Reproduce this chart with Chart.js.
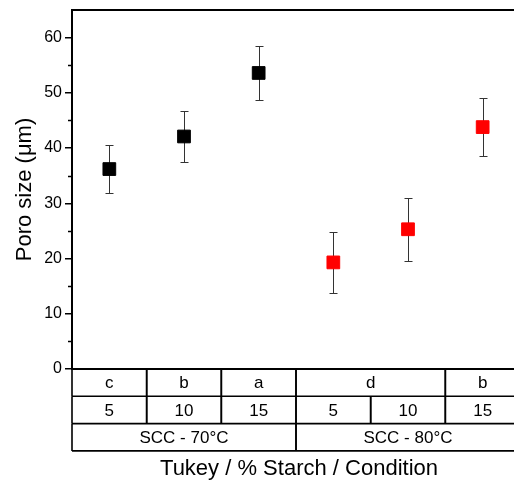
<!DOCTYPE html>
<html>
<head>
<meta charset="utf-8">
<script src="https://cdn.jsdelivr.net/npm/chart.js@4.4.0/dist/chart.umd.min.js"></script>
<style>
  html, body { margin: 0; padding: 0; background: #fff; overflow: hidden; }
  #wrap { width: 530px; height: 482px; }
</style>
</head>
<body>
<div id="wrap"><canvas id="chart"></canvas></div>
<script>
const starch = ['5', '10', '15', '5', '10', '15'];
const tukey = ['c', 'b', 'a', 'd', 'd', 'b'];
const condition = ['SCC - 70°C', 'SCC - 70°C', 'SCC - 70°C', 'SCC - 80°C', 'SCC - 80°C', 'SCC - 80°C'];
const poreSize = [36.2, 42.1, 53.6, 19.3, 25.3, 43.8];
const poreSd = [4.4, 4.7, 4.95, 5.5, 5.7, 5.3];
const yTicks = [0, 10, 20, 30, 40, 50, 60];
const yMinorTicks = [5, 15, 25, 35, 45, 55];
const seriesColors = { 'SCC - 70°C': '#000000', 'SCC - 80°C': '#ff0000' };

const FONT = "'Liberation Sans', Arial, sans-serif";

// group adjacent equal labels into merged cells
function mergeCells(labels) {
  const cells = [];
  labels.forEach((l, i) => {
    const last = cells[cells.length - 1];
    if (last && last.label === l) last.end = i + 1;
    else cells.push({ label: l, start: i, end: i + 1 });
  });
  return cells;
}

const datasets = [...new Set(condition)].map(c => ({
  label: c,
  data: poreSize.map((v, i) => ({ x: i + 0.5, y: v, sd: poreSd[i] }))
    .filter((p, i) => condition[i] === c),
  backgroundColor: seriesColors[c],
  borderColor: seriesColors[c],
  borderWidth: 1,
  pointStyle: 'rect',
  pointRadius: 9,
  pointHoverRadius: 9,
  showLine: false
}));

const tablePlugin = {
  id: 'tablePlugin',
  beforeDatasetsDraw(chart) {
    const { ctx, scales: { x, y } } = chart;
    ctx.save();
    ctx.strokeStyle = '#333';
    ctx.lineWidth = 1;
    chart.data.datasets.forEach(ds => ds.data.forEach(p => {
      const px = Math.round(x.getPixelForValue(p.x)) + 0.5;
      const top = Math.round(y.getPixelForValue(p.y + p.sd)) + 0.5;
      const bot = Math.round(y.getPixelForValue(p.y - p.sd)) + 0.5;
      ctx.beginPath();
      ctx.moveTo(px, top); ctx.lineTo(px, bot);
      ctx.moveTo(px - 4, top); ctx.lineTo(px + 4, top);
      ctx.moveTo(px - 4, bot); ctx.lineTo(px + 4, bot);
      ctx.stroke();
    }));
    ctx.restore();
  },
  afterDraw(chart) {
    const { ctx, chartArea: a, scales: { x, y } } = chart;
    ctx.save();
    ctx.strokeStyle = '#000';

    // minor ticks
    ctx.lineWidth = 1.5;
    ctx.beginPath();
    yMinorTicks.forEach(v => {
      const py = Math.round(y.getPixelForValue(v)) + 0.5;
      ctx.moveTo(a.left - 4, py);
      ctx.lineTo(a.left, py);
    });
    ctx.stroke();

    // table under the plot
    const rows = [tukey, starch, condition];
    const rowH = 27.3;
    ctx.font = '17px ' + FONT;
    ctx.fillStyle = '#000';
    ctx.textAlign = 'center';
    ctx.textBaseline = 'alphabetic';
    ctx.lineWidth = 1.6;
    rows.forEach((row, r) => {
      const top = a.bottom + r * rowH;
      const bot = top + rowH;
      ctx.beginPath();
      ctx.moveTo(a.left, bot); ctx.lineTo(a.right, bot);
      ctx.stroke();
      mergeCells(row).forEach(c => {
        const x0 = x.getPixelForValue(c.start);
        const x1 = x.getPixelForValue(c.end);
        ctx.beginPath();
        ctx.moveTo(x0, top); ctx.lineTo(x0, bot);
        ctx.moveTo(x1, top); ctx.lineTo(x1, bot);
        ctx.stroke();
        ctx.fillText(c.label, (x0 + x1) / 2, bot - 8);
      });
    });

    // plot frame
    ctx.lineWidth = 2;
    ctx.strokeRect(a.left, a.top, a.right - a.left, a.bottom - a.top);

    // x title
    ctx.font = '22px ' + FONT;
    ctx.fillText('Tukey / % Starch / Condition', (a.left + a.right) / 2 + 3, a.bottom + 3 * rowH + 24);
    ctx.restore();
  }
};

new Chart(document.getElementById('chart'), {
  type: 'scatter',
  data: { datasets: datasets },
  plugins: [tablePlugin],
  options: {
    responsive: true,
    maintainAspectRatio: false,
    animation: false,
    layout: { padding: { top: 8, right: 9, bottom: 113, left: 0 } },
    plugins: { legend: { display: false }, tooltip: { enabled: false } },
    scales: {
      x: { type: 'linear', min: 0, max: 6, display: false },
      y: {
        type: 'linear',
        min: 0,
        max: 65,
        afterBuildTicks: s => { s.ticks = yTicks.map(v => ({ value: v })); },
        afterFit: s => { s.width = 72; s.paddingTop = 0; s.paddingBottom = 0; },
        border: { display: false },
        grid: { drawOnChartArea: false, tickLength: 7, tickColor: '#000', lineWidth: 1.5 },
        ticks: { color: '#000', padding: 3, font: { family: FONT, size: 16 } },
        title: {
          display: true,
          text: 'Poro size (μm)',
          color: '#000',
          font: { family: FONT, size: 22 },
          padding: { top: 12, bottom: 0 }
        }
      }
    }
  }
});
</script>
</body>
</html>
